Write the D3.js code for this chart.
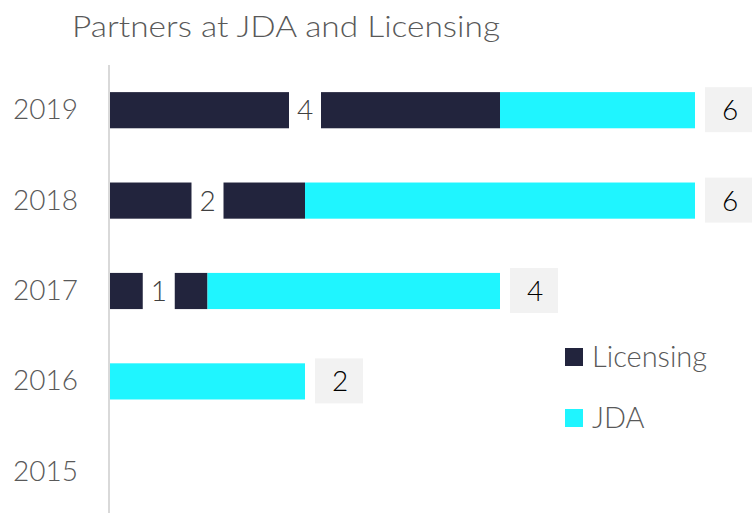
<!DOCTYPE html>
<html>
<head>
<meta charset="utf-8">
<script src="https://cdn.jsdelivr.net/npm/d3@7"></script>
<style>
  body { margin: 0; background: #fff; }
  text { font-family: Lato, 'Open Sans', sans-serif; font-weight: 300; }
</style>
</head>
<body>
<div id="chart"></div>
<script>
// chart data
const years = ['2019', '2018', '2017', '2016', '2015'];
const licensing = [4, 2, 1, 0, 0];
const jda = [2, 4, 3, 2, 0];
const seriesNames = ['Licensing', 'JDA'];
const seriesColors = ['#22243d', '#1ff5ff'];
const xTicks = [0, 1, 2, 3, 4, 5, 6];

const svgwidth = 752;
const svgheight = 513;
const margin = { left: 110, right: 57, top: 65, bottom: -4 };

const svg = d3.select('#chart').append('svg')
  .attr('width', svgwidth)
  .attr('height', svgheight);

// title
svg.append('text')
  .attr('x', 72)
  .attr('y', 37)
  .attr('fill', '#595959')
  .attr('font-size', 30)
  .attr('textLength', 428)
  .attr('lengthAdjust', 'spacingAndGlyphs')
  .text('Partners at JDA and Licensing');

const rows = years.map((y, i) => ({ year: y, licensing: licensing[i], jda: jda[i] }));

const x = d3.scaleLinear()
  .domain(d3.extent(xTicks))
  .range([margin.left, svgwidth - margin.right]);
const y = d3.scaleBand()
  .domain(years)
  .range([margin.top, svgheight - margin.bottom])
  .paddingInner(0.6)
  .paddingOuter(0.3);

const stack = d3.stack().keys(['licensing', 'jda']);
const layers = stack(rows);

// bars
svg.selectAll('.layer')
  .data(layers)
  .enter()
  .append('g')
  .attr('class', 'layer')
  .attr('fill', (d, i) => seriesColors[i])
  .selectAll('rect')
  .data(d => d)
  .enter()
  .append('rect')
  .attr('x', d => x(d[0]))
  .attr('y', d => y(d.data.year))
  .attr('width', d => x(d[1]) - x(d[0]))
  .attr('height', y.bandwidth());

// y axis (just labels and line)
const yAxis = svg.append('g')
  .attr('transform', `translate(${margin.left - 1},0)`)
  .call(d3.axisLeft(y).tickSize(0).tickPadding(31));
yAxis.select('.domain').attr('stroke', '#d9d9d9').attr('stroke-width', 2)
  .attr('d', `M0,${margin.top}V${svgheight}`);
yAxis.selectAll('text')
  .attr('fill', '#595959')
  .attr('font-size', 28)
  .style('font-family', 'Lato, sans-serif')
  .style('font-weight', 300);

// licensing value labels on white boxes
const licLab = svg.selectAll('.lic-label')
  .data(rows.filter(d => d.licensing > 0))
  .enter()
  .append('g')
  .attr('class', 'lic-label')
  .attr('transform', d => `translate(${x(d.licensing / 2)},${y(d.year) + y.bandwidth() / 2})`);
licLab.append('rect')
  .attr('x', -16)
  .attr('y', -y.bandwidth() / 2 - 1)
  .attr('width', 32)
  .attr('height', y.bandwidth() + 2)
  .attr('fill', '#ffffff');
licLab.append('text')
  .attr('text-anchor', 'middle')
  .attr('dy', '0.36em')
  .attr('font-size', 28)
  .attr('fill', '#404040')
  .text(d => d.licensing);

// total labels on grey boxes
const totLab = svg.selectAll('.tot-label')
  .data(rows.filter(d => d.licensing + d.jda > 0))
  .enter()
  .append('g')
  .attr('class', 'tot-label')
  .attr('transform', d => `translate(${x(d.licensing + d.jda) + 10},${y(d.year) + y.bandwidth() / 2})`);
totLab.append('rect')
  .attr('x', 0)
  .attr('y', -23)
  .attr('width', 48)
  .attr('height', 45)
  .attr('fill', '#f2f2f2');
totLab.append('text')
  .attr('x', 25)
  .attr('text-anchor', 'middle')
  .attr('dy', '0.36em')
  .attr('font-size', 28)
  .attr('fill', '#000000')
  .text(d => d.licensing + d.jda);

// legend
const legend = svg.selectAll('.legend')
  .data(seriesNames)
  .enter()
  .append('g')
  .attr('class', 'legend')
  .attr('transform', (d, i) => `translate(565,${357 + i * 61})`);
legend.append('rect')
  .attr('x', 0)
  .attr('y', -9)
  .attr('width', 18)
  .attr('height', 18)
  .attr('fill', (d, i) => seriesColors[i]);
legend.append('text')
  .attr('x', 27)
  .attr('dy', '0.36em')
  .attr('font-size', 29)
  .attr('fill', '#595959')
  .text(d => d);
</script>
</body>
</html>
